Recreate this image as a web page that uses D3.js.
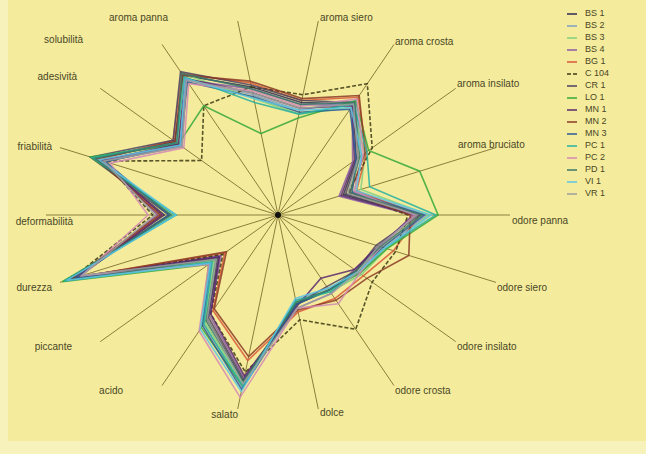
<!DOCTYPE html>
<html>
<head>
<meta charset="utf-8">
<script src="https://cdn.jsdelivr.net/npm/d3@7"></script>
<style>
  body { margin: 0; background: #f7f2bb; }
  svg { display: block; font-family: "Liberation Sans", Arial, sans-serif; }
</style>
</head>
<body>
<div id="chart"></div>
<script>
const axes = ["aroma panna", "aroma siero", "aroma crosta", "aroma insilato", "aroma bruciato",
  "odore panna", "odore siero", "odore insilato", "odore crosta", "dolce", "salato", "acido",
  "piccante", "durezza", "deformabilità", "friabilità", "adesività", "solubilità"];

const samples = ["BS 1", "BS 2", "BS 3", "BS 4", "BG 1", "C 104", "CR 1", "LO 1", "MN 1",
  "MN 2", "MN 3", "PC 1", "PC 2", "PD 1", "VI 1", "VR 1"];

// one row per sample, one value per axis (0-10)
const BS1  = [6.6, 5.8, 6.5, 4.4, 3.0, 6.0, 4.6, 4.4, 4.4, 4.6, 8.6, 6.1, 3.3, 9.4, 4.9, 8.4, 5.8, 8.2];
const BS2  = [6.2, 5.4, 6.7, 4.7, 3.5, 6.4, 4.9, 4.6, 4.3, 4.4, 8.9, 6.4, 3.7, 9.6, 4.6, 8.1, 5.5, 8.0];
const BS3  = [6.0, 5.2, 6.3, 4.9, 3.8, 6.5, 5.0, 4.7, 4.5, 4.5, 8.7, 6.3, 3.6, 9.8, 4.5, 8.5, 5.6, 8.3];
const BS4  = [6.5, 5.7, 6.4, 4.2, 2.8, 5.8, 4.7, 4.3, 4.6, 4.8, 8.4, 5.9, 3.2, 9.2, 5.2, 8.0, 5.4, 7.9];
const BG1  = [6.8, 5.9, 6.9, 5.0, 3.6, 6.1, 5.3, 4.8, 4.9, 5.0, 7.5, 5.6, 3.0, 9.3, 5.0, 8.2, 5.9, 8.3];
const C104 = [6.6, 6.2, 7.7, 5.3, 3.2, 5.6, 5.4, 5.3, 6.7, 5.4, 8.1, 5.8, 3.1, 9.5, 5.4, 8.0, 4.3, 6.4];
const CR1  = [6.7, 5.9, 6.6, 4.5, 3.1, 6.1, 4.5, 4.4, 4.2, 4.6, 8.5, 6.0, 3.4, 9.6, 4.7, 8.6, 5.9, 8.4];
const LO1  = [4.2, 5.0, 6.7, 5.1, 6.5, 6.9, 5.0, 4.6, 4.4, 4.5, 8.8, 6.6, 3.9, 9.9, 4.4, 8.6, 5.6, 6.4];
const MN1  = [6.3, 5.5, 6.4, 4.3, 2.9, 5.9, 4.6, 4.3, 3.7, 4.7, 8.3, 5.8, 3.3, 9.1, 5.0, 8.1, 5.6, 8.0];
const MN2  = [6.9, 6.0, 7.0, 4.9, 3.3, 5.7, 6.0, 5.0, 5.0, 4.9, 7.3, 5.5, 2.9, 9.4, 5.1, 8.3, 5.8, 8.2];
const MN3  = [6.1, 5.3, 6.2, 4.4, 3.4, 6.3, 4.8, 4.5, 4.4, 4.6, 9.0, 6.5, 3.8, 9.3, 4.7, 7.9, 5.5, 7.8];
const PC1  = [5.8, 5.2, 6.5, 5.0, 4.2, 6.8, 4.9, 4.5, 4.5, 4.4, 8.8, 6.4, 3.7, 9.8, 4.4, 8.5, 5.7, 8.1];
const PC2  = [6.4, 5.6, 6.8, 4.8, 3.5, 5.9, 4.7, 4.6, 5.2, 4.8, 9.4, 6.8, 3.9, 9.0, 5.6, 7.7, 5.3, 7.7];
const PD1  = [6.5, 5.7, 6.6, 4.6, 3.3, 6.2, 4.7, 4.4, 4.4, 4.5, 8.6, 6.2, 3.5, 9.7, 4.6, 8.4, 5.7, 8.3];
const VI1  = [6.0, 5.4, 6.3, 4.7, 3.6, 6.6, 4.9, 4.5, 4.3, 4.3, 9.1, 6.7, 3.8, 9.7, 4.4, 8.2, 5.5, 8.0];
const VR1  = [6.3, 5.5, 6.5, 4.5, 3.2, 6.0, 4.6, 4.5, 4.6, 4.8, 8.7, 6.1, 3.5, 9.0, 5.3, 8.0, 5.4, 7.9];

const values = [BS1, BS2, BS3, BS4, BG1, C104, CR1, LO1, MN1, MN2, MN3, PC1, PC2, PD1, VI1, VR1];

const colors = ["#2e2a55", "#7f9fc4", "#7fd07f", "#8a5aa8", "#d8583a", "#3c3a14", "#4a4262", "#35a83a",
  "#5a2a6e", "#8a3a26", "#2a5a96", "#26b0a0", "#d48ab4", "#3a7a6a", "#5cc4e4", "#9ca0a0"];

// label anchors in the picture (layout only)
const labelPos = [[168, 18, "end"], [320, 18, "start"], [395, 42, "start"], [457, 84, "start"],
  [458, 145, "start"], [512, 221, "start"], [497, 288, "start"], [457, 347, "start"],
  [395, 391, "start"], [320, 413, "start"], [238, 415, "end"], [123, 391, "end"],
  [72, 347, "end"], [52, 288, "end"], [73, 222, "end"], [52, 147, "end"],
  [77, 77, "end"], [83, 40, "end"]];

const W = 646, H = 454;
const cx = 278, cy = 215, rx = 232, ry = 197;

const svg = d3.select("#chart").append("svg")
    .attr("width", W)
    .attr("height", H);

svg.append("rect").attr("width", W).attr("height", H).attr("fill", "#f7f2bb");
svg.append("rect").attr("x", 8).attr("y", 0).attr("width", W - 8).attr("height", 441).attr("fill", "#f4ec9c");

const angle = d3.scaleLinear().domain([0, axes.length]).range([-Math.PI / 18, 2 * Math.PI - Math.PI / 18]);
const r = d3.scaleLinear().domain([0, 10]).range([0, 1]);

const px = (i, v) => cx + rx * r(v) * Math.sin(angle(i));
const py = (i, v) => cy - ry * r(v) * Math.cos(angle(i));

// spokes
svg.append("g").selectAll("line")
    .data(axes)
    .enter().append("line")
    .attr("x1", cx).attr("y1", cy)
    .attr("x2", (d, i) => px(i, 10))
    .attr("y2", (d, i) => py(i, 10))
    .attr("stroke", "#8c7e3c")
    .attr("stroke-width", 1);

const line = d3.line()
    .x((d, i) => px(i, d))
    .y((d, i) => py(i, d))
    .curve(d3.curveLinearClosed);

svg.append("g").selectAll("path")
    .data(values)
    .enter().append("path")
    .attr("d", d => line(d))
    .attr("fill", "none")
    .attr("stroke", (d, i) => colors[i])
    .attr("stroke-width", 1.6)
    .attr("stroke-dasharray", (d, i) => samples[i] === "C 104" ? "4,2" : null)
    .attr("stroke-linejoin", "miter")
    .attr("opacity", 0.85);

svg.append("circle").attr("cx", cx).attr("cy", cy).attr("r", 3).attr("fill", "#111");

svg.append("g").selectAll("text")
    .data(axes)
    .enter().append("text")
    .attr("x", (d, i) => labelPos[i][0])
    .attr("y", (d, i) => labelPos[i][1])
    .attr("text-anchor", (d, i) => labelPos[i][2])
    .attr("dominant-baseline", "middle")
    .attr("font-size", 10)
    .attr("fill", "#4a4626")
    .text(d => d);

// legend
const legend = svg.append("g").attr("transform", "translate(566, 14)");
const ly = d3.scalePoint().domain(samples).range([0, 180]);

legend.selectAll("line")
    .data(samples)
    .enter().append("line")
    .attr("x1", 1).attr("x2", 11)
    .attr("y1", d => ly(d)).attr("y2", d => ly(d))
    .attr("stroke", (d, i) => colors[i])
    .attr("stroke-width", 1.5)
    .attr("stroke-dasharray", d => d === "C 104" ? "4,2" : null);

legend.selectAll("text")
    .data(samples)
    .enter().append("text")
    .attr("x", 19)
    .attr("y", d => ly(d))
    .attr("dominant-baseline", "middle")
    .attr("font-size", 9)
    .attr("fill", "#4a4626")
    .text(d => d);
</script>
</body>
</html>
